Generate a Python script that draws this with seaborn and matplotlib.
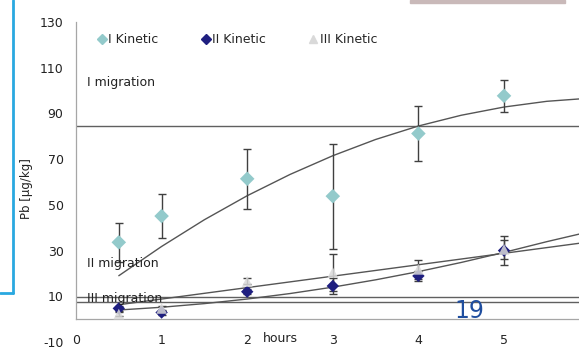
import numpy as np
import pandas as pd
import matplotlib
matplotlib.use("Agg")
import matplotlib.pyplot as plt
import seaborn as sns
from matplotlib.lines import Line2D
from matplotlib.patches import Rectangle

# measured points (hours, Pb µg/kg) and error bars
hours = [0.5, 1, 2, 3, 4, 5]
kin1 = [33.6, 45.1, 61.4, 53.8, 81.2, 97.7]
kin1_err = [8.5, 9.6, 13.0, 23.0, 12.0, 7.0]
kin2 = [4.7, 2.9, 12.0, 14.5, 18.9, 30.0]
kin2_err = [1.0, 1.0, 1.0, 3.6, 2.2, 6.4]
kin3 = [2.2, 4.7, 16.5, 20.4, 21.8, 30.5]
kin3_err = [1.0, 1.0, 1.3, 8.0, 4.1, 4.0]

# trend lines
trend_x = [0.5, 1, 1.5, 2, 2.5, 3, 3.5, 4, 4.5, 5, 5.5, 5.9]
trend1 = [19.0, 31.8, 43.5, 54.0, 63.3, 71.5, 78.6, 84.5, 89.2, 92.8, 95.3, 96.4]
trend2 = [4.0, 5.2, 6.8, 8.8, 11.2, 14.0, 17.2, 20.8, 24.8, 29.2, 33.9, 37.4]
trend3 = [6.3, 8.8, 11.3, 13.8, 16.3, 18.8, 21.3, 23.8, 26.3, 28.8, 31.3, 33.3]

# migration limits
limits = {"I migration": 84.3, "II migration": 9.7, "III migration": 7.3}
limit_labels = [("I migration", 103.5), ("II migration", 24.5), ("III migration", 9.0)]

names = ["I Kinetic", "II Kinetic", "III Kinetic"]
colors = {"I Kinetic": "#93CACB", "II Kinetic": "#1F1F80", "III Kinetic": "#D9D9D9"}
markers = {"I Kinetic": "D", "II Kinetic": "D", "III Kinetic": "^"}
sizes = {"I Kinetic": 55, "II Kinetic": 40, "III Kinetic": 60}

df = pd.DataFrame({
    "hours": hours * 3,
    "Pb": kin1 + kin2 + kin3,
    "err": kin1_err + kin2_err + kin3_err,
    "series": [n for n in names for _ in hours],
})

sns.set_style("white")
plt.rcParams["font.family"] = ["DejaVu Sans"]
plt.rcParams["axes.unicode_minus"] = False

fig = plt.figure(figsize=(5.79, 3.5), dpi=100)
ax = fig.add_axes([76 / 579, 8 / 350, (579 - 76) / 579, 320 / 350])

# horizontal migration limits
for name, val in limits.items():
    ax.axhline(val, color="#606060", lw=1.0, zorder=1)

# trend lines
tr = pd.DataFrame({"x": trend_x * 3, "y": trend1 + trend2 + trend3,
                   "t": ["t1"] * 12 + ["t2"] * 12 + ["t3"] * 12})
sns.lineplot(data=tr, x="x", y="y", units="t", estimator=None, color="#555555",
             lw=1.0, ax=ax, zorder=2, legend=False)

# error bars
for n in names:
    d = df[df["series"] == n]
    ax.errorbar(d["hours"], d["Pb"], yerr=d["err"], fmt="none", ecolor="#404040",
                elinewidth=1.0, capsize=3, capthick=1.0, zorder=3)

# markers
for i, n in enumerate(names):
    d = df[df["series"] == n]
    sns.scatterplot(data=d, x="hours", y="Pb", marker=markers[n], color=colors[n],
                    s=sizes[n], edgecolor="none", ax=ax, zorder=4 + i,
                    alpha=0.85 if n == "III Kinetic" else 1.0)

for txt, yv in limit_labels:
    ax.text(0.13, yv, txt, fontsize=9, color="#222222", va="center", ha="left",
            zorder=8)

ax.set_xlim(0, 5.876)
ax.set_ylim(-10, 130)
ax.set_xticks([0, 1, 2, 3, 4, 5])
ax.set_yticks(range(-10, 131, 20))
ax.set_xlabel("")
ax.set_ylabel("Pb [µg/kg]", fontsize=8.5, color="#222222")
ax.yaxis.set_label_coords(-0.085, 0.48)
ax.tick_params(axis="both", labelsize=9, colors="#888888", labelcolor="#222222",
               length=4, width=0.8, direction="out", pad=5)
ax.tick_params(axis="x", pad=7)
for s in ["top", "right"]:
    ax.spines[s].set_visible(False)
ax.spines["bottom"].set_position(("data", 0))
ax.spines["left"].set_bounds(0, 130)
for s in ["left", "bottom"]:
    ax.spines[s].set_color("#A6A6A6")
    ax.spines[s].set_linewidth(0.9)

ax.text(2.18, -8.3, "hours", fontsize=9, color="#222222", va="center", ha="left")

handles = [Line2D([], [], ls="none", marker=markers[n], color=colors[n],
                  markersize=5 if n != "III Kinetic" else 6) for n in names]
ax.legend(handles, names, ncol=3, frameon=False, loc="upper left",
          bbox_to_anchor=(98 / 579, 1 - 33 / 350), bbox_transform=fig.transFigure,
          borderaxespad=0, borderpad=0, handlelength=0.6, handletextpad=0.2,
          columnspacing=3.5, fontsize=9)

# slide decorations
fig.add_artist(Line2D([13 / 579, 13 / 579], [1, 1 - 293 / 350], color="#29A8E0",
                      lw=2, transform=fig.transFigure))
fig.add_artist(Line2D([0, 13 / 579], [1 - 293 / 350, 1 - 293 / 350], color="#29A8E0",
                      lw=2, transform=fig.transFigure))
fig.add_artist(Rectangle((410 / 579, 1 - 3 / 350), 155 / 579, 3 / 350,
                         color="#C9B9B9", transform=fig.transFigure))
fig.text(454 / 579, 1 - 318 / 350, "19", fontsize=17, color="#1F4E9F",
         va="baseline", ha="left")

fig.savefig("out.png", dpi=100)
